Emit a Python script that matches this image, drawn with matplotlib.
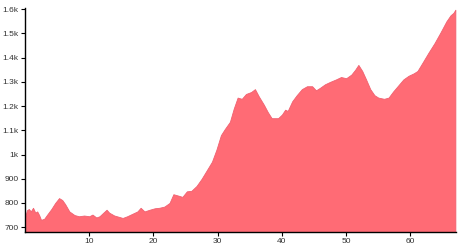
import matplotlib
matplotlib.use("Agg")
import matplotlib.pyplot as plt
from matplotlib.ticker import FuncFormatter

distance = [0, 0.3, 0.6, 0.9, 1.25, 1.6, 1.9, 2.2, 2.5, 3.0, 3.4, 4.1, 4.7, 5.3, 5.8, 6.25,
            6.9, 7.7, 8.4, 9.2, 10, 10.5, 11.1, 11.6, 12.2, 12.7, 13.1, 13.9, 14.7, 15.2,
            15.9, 16.7, 17.5, 18.0, 18.6, 19.4, 20.2, 20.9, 21.7, 22.5, 23.1, 23.9, 24.5,
            25.2, 25.9, 26.7, 27.5, 28.3, 29.1, 29.8, 30.5, 31.1, 31.9, 32.5, 33.1, 33.75,
            34.4, 35.2, 35.8, 36.4, 37.2, 37.8, 38.4, 39.4, 40.0, 40.5, 40.9, 41.6, 42.3,
            43.1, 43.9, 44.7, 45.3, 45.9, 46.7, 47.5, 48.4, 49.2, 50.0, 50.8, 51.4, 51.9,
            52.5, 53.1, 53.75, 54.4, 55.0, 55.9, 56.6, 57.3, 58.1, 58.9, 59.7, 60.5, 61.1,
            61.9, 62.8, 63.75, 64.7, 65.6, 66.25, 66.7, 67.0]
elevation = [740, 770, 775, 765, 780, 760, 765, 750, 730, 735, 750, 775, 800, 820, 812, 795,
             765, 750, 745, 748, 745, 752, 740, 745, 760, 772, 760, 748, 742, 738,
             745, 755, 765, 780, 765, 772, 778, 780, 785, 800, 836, 830, 825,
             848, 850, 870, 900, 935, 970, 1020, 1080, 1105, 1135, 1190, 1235, 1230,
             1250, 1258, 1270, 1240, 1205, 1175, 1150, 1150, 1165, 1185, 1180, 1220, 1245,
             1270, 1282, 1282, 1265, 1275, 1290, 1300, 1310, 1320, 1315, 1330, 1350, 1370,
             1345, 1310, 1270, 1245, 1235, 1230, 1235, 1260, 1285, 1310, 1325, 1335, 1345,
             1380, 1420, 1460, 1505, 1550, 1575, 1585, 1598]
x_ticks = [10, 20, 30, 40, 50, 60]
y_ticks = [700, 800, 900, 1000, 1100, 1200, 1300, 1400, 1500, 1600]

plt.rcParams['font.family'] = ['Liberation Sans', 'DejaVu Sans']
fig = plt.figure(figsize=(4.58, 2.44), dpi=100)
ax = fig.add_axes([25/458, 12/244, 431/458, 224/244])
ax.fill_between(distance, elevation, 680, color='#ff6b75', linewidth=0.6, edgecolor='#f06070')
ax.set_xlim(0, 67.1)
ax.set_ylim(680, 1605)
ax.set_xticks(x_ticks)
ax.set_yticks(y_ticks)

def fmt(v, pos):
    if v >= 1000:
        s = f"{v/1000:.1f}".rstrip('0').rstrip('.')
        return s + "k"
    return f"{int(v)}"

ax.yaxis.set_major_formatter(FuncFormatter(fmt))
for s in ['top', 'right']:
    ax.spines[s].set_visible(False)
for s in ['left', 'bottom']:
    ax.spines[s].set_linewidth(1.0)
    ax.spines[s].set_color('black')
ax.tick_params(axis='both', labelsize=6, length=3, width=0.8, pad=1.5, colors='black', labelcolor='#333333')
fig.savefig('out.png', dpi=100)
